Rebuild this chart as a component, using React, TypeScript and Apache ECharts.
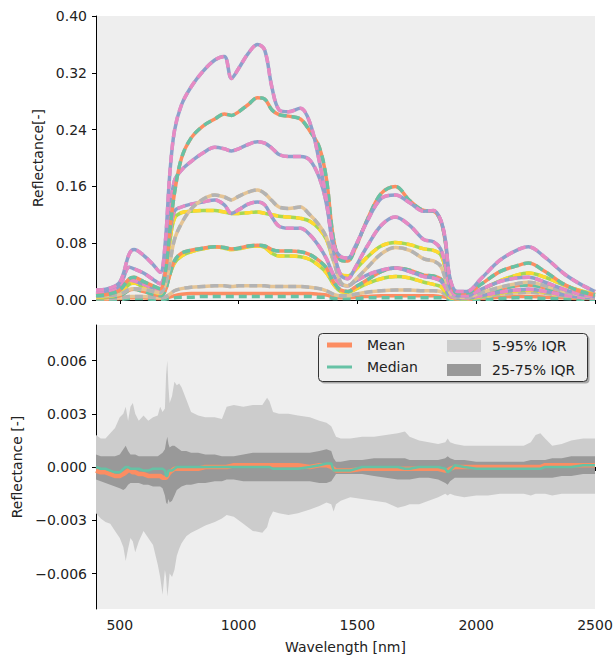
import React, { useEffect, useRef } from 'react';
import * as echarts from 'echarts';

// ---------- Top panel: reflectance spectra ----------
const WL = [400, 450, 500, 540, 560, 600, 640, 670, 690, 710, 730, 760, 800, 850, 900, 940, 970, 1000, 1040, 1080, 1110, 1140, 1170, 1210, 1260, 1300, 1340, 1370, 1400, 1430, 1460, 1490, 1540, 1600, 1660, 1720, 1780, 1820, 1850, 1870, 1890, 1920, 1960, 2020, 2100, 2170, 2220, 2290, 2370, 2440, 2500];

const specA = [0.014, 0.016, 0.025, 0.065, 0.071, 0.063, 0.050, 0.039, 0.075, 0.175, 0.238, 0.275, 0.300, 0.322, 0.338, 0.343, 0.312, 0.326, 0.347, 0.360, 0.352, 0.300, 0.268, 0.265, 0.270, 0.250, 0.195, 0.140, 0.078, 0.061, 0.059, 0.075, 0.110, 0.143, 0.148, 0.137, 0.125, 0.126, 0.113, 0.085, 0.030, 0.012, 0.012, 0.030, 0.056, 0.070, 0.075, 0.060, 0.037, 0.022, 0.012];
const specB = [0.006, 0.008, 0.014, 0.030, 0.032, 0.026, 0.020, 0.016, 0.035, 0.095, 0.150, 0.200, 0.228, 0.245, 0.255, 0.262, 0.260, 0.265, 0.275, 0.285, 0.283, 0.268, 0.261, 0.259, 0.255, 0.238, 0.215, 0.170, 0.085, 0.056, 0.055, 0.072, 0.112, 0.150, 0.160, 0.140, 0.126, 0.125, 0.112, 0.082, 0.028, 0.010, 0.010, 0.022, 0.040, 0.048, 0.052, 0.040, 0.022, 0.012, 0.007];
const specC = [0.010, 0.012, 0.020, 0.046, 0.044, 0.038, 0.029, 0.023, 0.040, 0.120, 0.168, 0.183, 0.195, 0.207, 0.215, 0.213, 0.210, 0.213, 0.219, 0.223, 0.221, 0.214, 0.205, 0.202, 0.202, 0.197, 0.172, 0.135, 0.070, 0.035, 0.030, 0.045, 0.075, 0.105, 0.117, 0.105, 0.085, 0.082, 0.072, 0.050, 0.018, 0.006, 0.006, 0.015, 0.026, 0.031, 0.032, 0.025, 0.015, 0.008, 0.005];
const specD = [0.005, 0.006, 0.008, 0.015, 0.016, 0.015, 0.012, 0.010, 0.020, 0.050, 0.085, 0.108, 0.128, 0.142, 0.148, 0.145, 0.141, 0.146, 0.152, 0.155, 0.150, 0.140, 0.131, 0.129, 0.131, 0.120, 0.105, 0.088, 0.055, 0.025, 0.020, 0.028, 0.045, 0.065, 0.074, 0.070, 0.058, 0.055, 0.048, 0.030, 0.010, 0.004, 0.004, 0.010, 0.018, 0.023, 0.025, 0.020, 0.012, 0.007, 0.004];
const specE = [0.008, 0.010, 0.014, 0.028, 0.027, 0.022, 0.017, 0.014, 0.030, 0.090, 0.125, 0.131, 0.135, 0.138, 0.141, 0.134, 0.122, 0.127, 0.135, 0.138, 0.134, 0.117, 0.104, 0.101, 0.101, 0.092, 0.075, 0.058, 0.035, 0.022, 0.020, 0.026, 0.035, 0.042, 0.045, 0.040, 0.033, 0.031, 0.027, 0.018, 0.006, 0.003, 0.003, 0.006, 0.011, 0.014, 0.015, 0.012, 0.007, 0.004, 0.003];
const specF = [0.004, 0.005, 0.009, 0.022, 0.024, 0.018, 0.012, 0.009, 0.025, 0.080, 0.115, 0.123, 0.125, 0.126, 0.126, 0.124, 0.122, 0.122, 0.123, 0.124, 0.122, 0.120, 0.118, 0.117, 0.115, 0.111, 0.100, 0.085, 0.055, 0.036, 0.034, 0.042, 0.060, 0.076, 0.081, 0.078, 0.072, 0.070, 0.064, 0.045, 0.015, 0.005, 0.005, 0.014, 0.027, 0.035, 0.038, 0.032, 0.021, 0.013, 0.008];
const specG = [0.003, 0.004, 0.006, 0.014, 0.015, 0.012, 0.008, 0.006, 0.012, 0.035, 0.055, 0.066, 0.070, 0.073, 0.075, 0.074, 0.072, 0.073, 0.076, 0.077, 0.076, 0.071, 0.069, 0.069, 0.068, 0.064, 0.055, 0.045, 0.025, 0.014, 0.012, 0.018, 0.028, 0.040, 0.045, 0.042, 0.035, 0.034, 0.030, 0.020, 0.006, 0.003, 0.003, 0.008, 0.015, 0.020, 0.021, 0.017, 0.010, 0.006, 0.004];
const specH = [0.003, 0.004, 0.008, 0.026, 0.027, 0.018, 0.010, 0.007, 0.014, 0.035, 0.052, 0.062, 0.068, 0.072, 0.075, 0.073, 0.071, 0.072, 0.075, 0.076, 0.074, 0.066, 0.062, 0.062, 0.061, 0.057, 0.048, 0.038, 0.022, 0.012, 0.011, 0.015, 0.023, 0.030, 0.033, 0.031, 0.025, 0.022, 0.019, 0.012, 0.004, 0.002, 0.002, 0.005, 0.010, 0.013, 0.014, 0.011, 0.007, 0.004, 0.003];
const specI = [0.002, 0.002, 0.003, 0.005, 0.005, 0.005, 0.004, 0.003, 0.004, 0.008, 0.013, 0.016, 0.018, 0.019, 0.020, 0.020, 0.019, 0.020, 0.020, 0.020, 0.020, 0.019, 0.019, 0.019, 0.019, 0.018, 0.016, 0.013, 0.008, 0.006, 0.006, 0.008, 0.011, 0.013, 0.014, 0.014, 0.013, 0.013, 0.012, 0.008, 0.003, 0.002, 0.002, 0.004, 0.008, 0.010, 0.011, 0.009, 0.006, 0.004, 0.003];
const specJ = [0.001, 0.001, 0.002, 0.003, 0.003, 0.003, 0.002, 0.002, 0.002, 0.004, 0.006, 0.008, 0.009, 0.009, 0.009, 0.009, 0.009, 0.009, 0.009, 0.009, 0.009, 0.009, 0.009, 0.009, 0.009, 0.009, 0.008, 0.007, 0.004, 0.003, 0.003, 0.004, 0.005, 0.006, 0.006, 0.006, 0.006, 0.006, 0.005, 0.004, 0.002, 0.001, 0.001, 0.002, 0.004, 0.005, 0.005, 0.004, 0.003, 0.002, 0.002];
const specJd = [0.001, 0.001, 0.001, 0.002, 0.002, 0.002, 0.001, 0.001, 0.001, 0.002, 0.003, 0.004, 0.004, 0.005, 0.005, 0.005, 0.005, 0.005, 0.005, 0.005, 0.005, 0.005, 0.005, 0.005, 0.005, 0.005, 0.004, 0.004, 0.002, 0.002, 0.002, 0.002, 0.003, 0.003, 0.003, 0.003, 0.003, 0.003, 0.003, 0.002, 0.001, 0.001, 0.001, 0.001, 0.002, 0.003, 0.003, 0.002, 0.002, 0.001, 0.001];

// ---------- Bottom panel: residual statistics ----------
const BAND_WL = [400, 420, 440, 460, 480, 500, 515, 525, 535, 545, 555, 565, 580, 600, 620, 640, 660, 670, 680, 690, 695, 700, 705, 710, 720, 730, 740, 750, 760, 780, 800, 830, 860, 900, 930, 950, 980, 1020, 1060, 1100, 1120, 1130, 1145, 1170, 1210, 1250, 1300, 1340, 1370, 1390, 1400, 1410, 1430, 1470, 1520, 1570, 1620, 1670, 1700, 1720, 1760, 1800, 1840, 1870, 1880, 1890, 1910, 1950, 2000, 2050, 2100, 2150, 2200, 2230, 2250, 2270, 2290, 2320, 2360, 2400, 2450, 2500];

const P95 = [0.0018, 0.0016, 0.0016, 0.0019, 0.0022, 0.0028, 0.0030, 0.0034, 0.0026, 0.0034, 0.0036, 0.0030, 0.0026, 0.0029, 0.0026, 0.0028, 0.0029, 0.0034, 0.0031, 0.0033, 0.0052, 0.0060, 0.0045, 0.0036, 0.0040, 0.0048, 0.0046, 0.0047, 0.0045, 0.0038, 0.0031, 0.0029, 0.0028, 0.0028, 0.0027, 0.0034, 0.0035, 0.0034, 0.0035, 0.0035, 0.0039, 0.0037, 0.0031, 0.0030, 0.0030, 0.0029, 0.0028, 0.0026, 0.0025, 0.0023, 0.0020, 0.0017, 0.0016, 0.0016, 0.0017, 0.0017, 0.0018, 0.0019, 0.0020, 0.0017, 0.0015, 0.0014, 0.0013, 0.0014, 0.0016, 0.0014, 0.0013, 0.0012, 0.0012, 0.0012, 0.0012, 0.0012, 0.0012, 0.0014, 0.0018, 0.0019, 0.0016, 0.0012, 0.0013, 0.0015, 0.0016, 0.0016];
const P05 = [-0.0026, -0.0029, -0.0031, -0.0032, -0.0036, -0.0040, -0.0045, -0.0053, -0.0046, -0.0040, -0.0042, -0.0048, -0.0042, -0.0036, -0.0040, -0.0044, -0.0055, -0.0062, -0.0072, -0.0058, -0.0062, -0.0073, -0.0067, -0.0060, -0.0062, -0.0058, -0.0050, -0.0046, -0.0043, -0.0039, -0.0037, -0.0035, -0.0033, -0.0031, -0.0029, -0.0027, -0.0028, -0.0032, -0.0036, -0.0037, -0.0034, -0.0029, -0.0025, -0.0026, -0.0027, -0.0026, -0.0024, -0.0022, -0.0020, -0.0021, -0.0025, -0.0021, -0.0019, -0.0017, -0.0018, -0.0019, -0.0020, -0.0023, -0.0022, -0.0021, -0.0021, -0.0019, -0.0017, -0.0015, -0.0016, -0.0015, -0.0016, -0.0017, -0.0016, -0.0016, -0.0015, -0.0015, -0.0015, -0.0016, -0.0015, -0.0015, -0.0015, -0.0016, -0.0015, -0.0015, -0.0015, -0.0015];
const P75 = [0.0007, 0.0006, 0.0006, 0.0006, 0.0006, 0.0007, 0.0010, 0.0012, 0.0009, 0.0007, 0.0007, 0.0007, 0.0006, 0.0006, 0.0006, 0.0006, 0.0006, 0.0007, 0.0008, 0.0010, 0.0014, 0.0017, 0.0013, 0.0011, 0.0012, 0.0012, 0.0011, 0.0010, 0.0009, 0.0009, 0.0008, 0.0008, 0.0007, 0.0007, 0.0006, 0.0006, 0.0006, 0.0007, 0.0008, 0.0008, 0.0008, 0.0008, 0.0008, 0.0008, 0.0008, 0.0008, 0.0008, 0.0009, 0.0010, 0.0009, 0.0005, 0.0003, 0.0003, 0.0004, 0.0004, 0.0005, 0.0005, 0.0005, 0.0005, 0.0004, 0.0004, 0.0004, 0.0004, 0.0005, 0.0006, 0.0005, 0.0004, 0.0004, 0.0003, 0.0003, 0.0003, 0.0003, 0.0003, 0.0004, 0.0004, 0.0004, 0.0004, 0.0005, 0.0005, 0.0006, 0.0006, 0.0006];
const P25 = [-0.0007, -0.0008, -0.0009, -0.0010, -0.0011, -0.0012, -0.0013, -0.0012, -0.0010, -0.0009, -0.0009, -0.0009, -0.0009, -0.0010, -0.0010, -0.0011, -0.0011, -0.0011, -0.0012, -0.0016, -0.0020, -0.0021, -0.0018, -0.0020, -0.0019, -0.0016, -0.0013, -0.0012, -0.0011, -0.0010, -0.0010, -0.0009, -0.0009, -0.0008, -0.0008, -0.0007, -0.0007, -0.0008, -0.0008, -0.0008, -0.0008, -0.0008, -0.0008, -0.0008, -0.0008, -0.0008, -0.0008, -0.0009, -0.0009, -0.0008, -0.0006, -0.0004, -0.0004, -0.0004, -0.0004, -0.0005, -0.0006, -0.0007, -0.0007, -0.0007, -0.0006, -0.0006, -0.0007, -0.0009, -0.0010, -0.0008, -0.0006, -0.0006, -0.0006, -0.0006, -0.0006, -0.0006, -0.0006, -0.0006, -0.0006, -0.0006, -0.0006, -0.0006, -0.0005, -0.0005, -0.0004, -0.0004];
const MEAN = [-0.0002, -0.0003, -0.0003, -0.0004, -0.0005, -0.0005, -0.0004, -0.0003, -0.0002, -0.0002, -0.0003, -0.0003, -0.0004, -0.0004, -0.0005, -0.0005, -0.0005, -0.0005, -0.0006, -0.0006, -0.0006, -0.0005, -0.0004, -0.0003, -0.0002, -0.0001, -0.0001, -0.0001, -0.0001, -0.0001, -0.0001, -0.0001, 0, 0, 0, 0, 0.0001, 0.0001, 0.0001, 0.0001, 0.0001, 0.0001, 0.0001, 0.0001, 0.0001, 0.0001, 0, 0.0001, 0.0001, 0, -0.0001, -0.0002, -0.0002, -0.0002, -0.0001, -0.0001, -0.0001, -0.0001, -0.0001, -0.0001, -0.0001, -0.0001, -0.0001, -0.0002, -0.0002, -0.0001, 0, 0, 0, 0, 0, 0, 0, 0, 0, 0, 0.0001, 0.0001, 0.0001, 0.0001, 0.0001, 0.0001];
const MEDIAN = [0, -0.0001, -0.0001, -0.0002, -0.0003, -0.0003, -0.0001, 0, 0, -0.0001, -0.0001, -0.0001, -0.0001, -0.0002, -0.0002, -0.0001, -0.0001, -0.0001, -0.0001, -0.0002, -0.0005, -0.0005, -0.0002, -0.0002, -0.0002, -0.0001, 0, 0, 0, 0, 0, 0, 0, 0, 0, 0, 0, 0, 0, 0, 0, 0, -0.0001, -0.0001, -0.0001, -0.0001, 0, 0.0001, 0.0002, 0.0002, -0.0002, -0.0002, -0.0002, -0.0002, 0, 0, 0, 0, -0.0001, -0.0001, 0, 0, 0, -0.0001, -0.0003, -0.0002, 0.0001, 0, -0.0001, -0.0001, -0.0001, -0.0001, -0.0001, -0.0001, -0.0001, -0.0001, 0, 0, 0, 0, 0.0001, 0.0001];

const X_TICKS = [500, 1000, 1500, 2000, 2500];
const RES_TICKS = [-0.006, -0.003, 0, 0.003, 0.006];

const C = {
  green: '#66c2a5', orange: '#fc8d62', blue: '#8da0cb', pink: '#e78ac3',
  lime: '#a6d854', yellow: '#ffd92f', tan: '#e5c494', gray: '#b3b3b3',
};
const FONT = 'DejaVu Sans';
const TXT = '#222222';
const BG = '#eeeeee';

// solid spectrum, dashed spectrum, solid colour, dashed colour (drawn in this order)
const PAIRS: [number[], number[], string, string][] = [
  [specJ, specJd, C.orange, C.green],
  [specI, specI, C.tan, C.gray],
  [specH, specH, C.lime, C.yellow],
  [specG, specG, C.orange, C.green],
  [specF, specF, C.lime, C.yellow],
  [specE, specE, C.blue, C.pink],
  [specD, specD, C.tan, C.gray],
  [specC, specC, C.blue, C.pink],
  [specB, specB, C.orange, C.green],
  [specA, specA, C.blue, C.pink],
];

function buildOption() {
  const series: any[] = [];
  PAIRS.forEach(([solid, dashed, cs, cd], k) => {
    series.push({
      type: 'line', xAxisIndex: 0, yAxisIndex: 0, name: `spectrum ${k + 1}`,
      data: WL.map((w, i) => [w, solid[i]]), symbol: 'none', smooth: 0.35, silent: true,
      lineStyle: { width: 3.5, color: cs, type: 'solid' }, z: 2,
    });
    series.push({
      type: 'line', xAxisIndex: 0, yAxisIndex: 0, name: `estimate ${k + 1}`,
      data: WL.map((w, i) => [w, dashed[i]]), symbol: 'none', smooth: 0.35, silent: true,
      lineStyle: { width: 3.5, color: cd, type: [8, 5], cap: 'butt' }, z: 2,
    });
  });

  const band = (name: string, up: number[], lo: number[], color: string) => ({
    type: 'custom', name, xAxisIndex: 1, yAxisIndex: 1, silent: true,
    itemStyle: { color },
    data: [[BAND_WL[0], 0]],
    encode: { x: 0, y: 1 },
    renderItem: (_p: any, api: any) => {
      const pts: number[][] = [];
      for (let i = 0; i < BAND_WL.length; i++) pts.push(api.coord([BAND_WL[i], up[i]]));
      for (let i = BAND_WL.length - 1; i >= 0; i--) pts.push(api.coord([BAND_WL[i], lo[i]]));
      return { type: 'polygon', shape: { points: pts }, style: { fill: color } };
    },
    z: 1,
  });
  series.push(band('5-95% IQR', P95, P05, '#cccccc'));
  series.push(band('25-75% IQR', P75, P25, '#999999'));
  series.push({
    type: 'line', name: 'Mean', xAxisIndex: 1, yAxisIndex: 1, silent: true,
    data: BAND_WL.map((w, i) => [w, MEAN[i]]), symbol: 'none',
    itemStyle: { color: C.orange }, lineStyle: { width: 4.5, color: C.orange }, z: 3,
  });
  series.push({
    type: 'line', name: 'Median', xAxisIndex: 1, yAxisIndex: 1, silent: true,
    data: BAND_WL.map((w, i) => [w, MEDIAN[i]]), symbol: 'none',
    itemStyle: { color: C.green }, lineStyle: { width: 2.5, color: C.green }, z: 4,
  });

  const axisLine = { show: true, lineStyle: { color: '#000', width: 1 } };
  const tick = { show: true, length: 4, lineStyle: { color: '#000', width: 1 } };
  const label = { fontFamily: FONT, fontSize: 14, color: TXT };

  return {
    animation: false,
    textStyle: { fontFamily: FONT },
    grid: [
      { left: 96, top: 16, width: 499, height: 284, show: true, backgroundColor: BG, borderWidth: 0 },
      { left: 96, top: 325, width: 499, height: 284, show: true, backgroundColor: BG, borderWidth: 0 },
    ],
    xAxis: [
      {
        type: 'value', gridIndex: 0, min: 400, max: 2500, axisLine,
        axisTick: { ...tick, customValues: X_TICKS },
        axisLabel: { show: false, customValues: X_TICKS },
        splitLine: { show: false },
      },
      {
        type: 'value', gridIndex: 1, min: 400, max: 2500, axisLine,
        axisTick: { ...tick, customValues: X_TICKS },
        axisLabel: { ...label, margin: 9, customValues: X_TICKS, formatter: (v: number) => String(v) },
        splitLine: { show: false },
        name: 'Wavelength [nm]', nameLocation: 'middle', nameGap: 31,
        nameTextStyle: { ...label },
      },
    ],
    yAxis: [
      {
        type: 'value', gridIndex: 0, min: 0, max: 0.4, interval: 0.08, axisLine,
        axisTick: tick,
        axisLabel: { ...label, margin: 9, formatter: (v: number) => v.toFixed(2) },
        splitLine: { show: false },
        name: 'Reflectance[-]', nameLocation: 'middle', nameGap: 50, nameRotate: 90,
        nameTextStyle: { ...label },
      },
      {
        type: 'value', gridIndex: 1, min: -0.008, max: 0.008, axisLine,
        axisTick: { ...tick, customValues: RES_TICKS },
        axisLabel: {
          ...label, margin: 9, customValues: RES_TICKS,
          formatter: (v: number) => (v < -1e-9 ? '\u2212' : '') + Math.abs(v).toFixed(3),
        },
        splitLine: { show: false },
        name: 'Reflectance [-]', nameLocation: 'middle', nameGap: 71, nameRotate: 90,
        nameTextStyle: { ...label },
      },
    ],
    legend: [
      {
        z: 20, orient: 'vertical', left: 327, top: 338, padding: 0, itemWidth: 25, itemHeight: 14, itemGap: 8,
        selectedMode: false, itemStyle: { borderWidth: 0 },
        textStyle: { ...label, padding: [0, 0, 0, 10] },
        data: [
          { name: 'Mean', icon: 'path://M0,0H25V5H0Z' },
          { name: 'Median', icon: 'path://M0,0H25V3H0Z' },
        ],
      },
      {
        z: 20, orient: 'vertical', left: 447, top: 339, padding: 0, itemWidth: 34, itemHeight: 12, itemGap: 10,
        selectedMode: false, itemStyle: { borderWidth: 0 },
        textStyle: { ...label, padding: [0, 0, 0, 6] },
        data: [
          { name: '5-95% IQR', icon: 'rect' },
          { name: '25-75% IQR', icon: 'rect' },
        ],
      },
    ],
    graphic: [
      { type: 'rect', z: 10, silent: true, shape: { x: 320.5, y: 335.5, width: 269, height: 48, r: 4 }, style: { fill: '#a8a8a8' } },
      { type: 'rect', z: 11, silent: true, shape: { x: 318.5, y: 333.5, width: 269, height: 48, r: 4 }, style: { fill: BG, stroke: '#333333', lineWidth: 1 } },
    ],
    series,
  };
}

export default function App() {
  const ref = useRef<HTMLDivElement>(null);
  useEffect(() => {
    document.body.style.margin = '0';
    const chart = echarts.init(ref.current as HTMLDivElement, null, { renderer: 'svg' });
    chart.setOption(buildOption() as any);
    return () => chart.dispose();
  }, []);
  return <div ref={ref} style={{ width: 616, height: 656 }} />;
}
